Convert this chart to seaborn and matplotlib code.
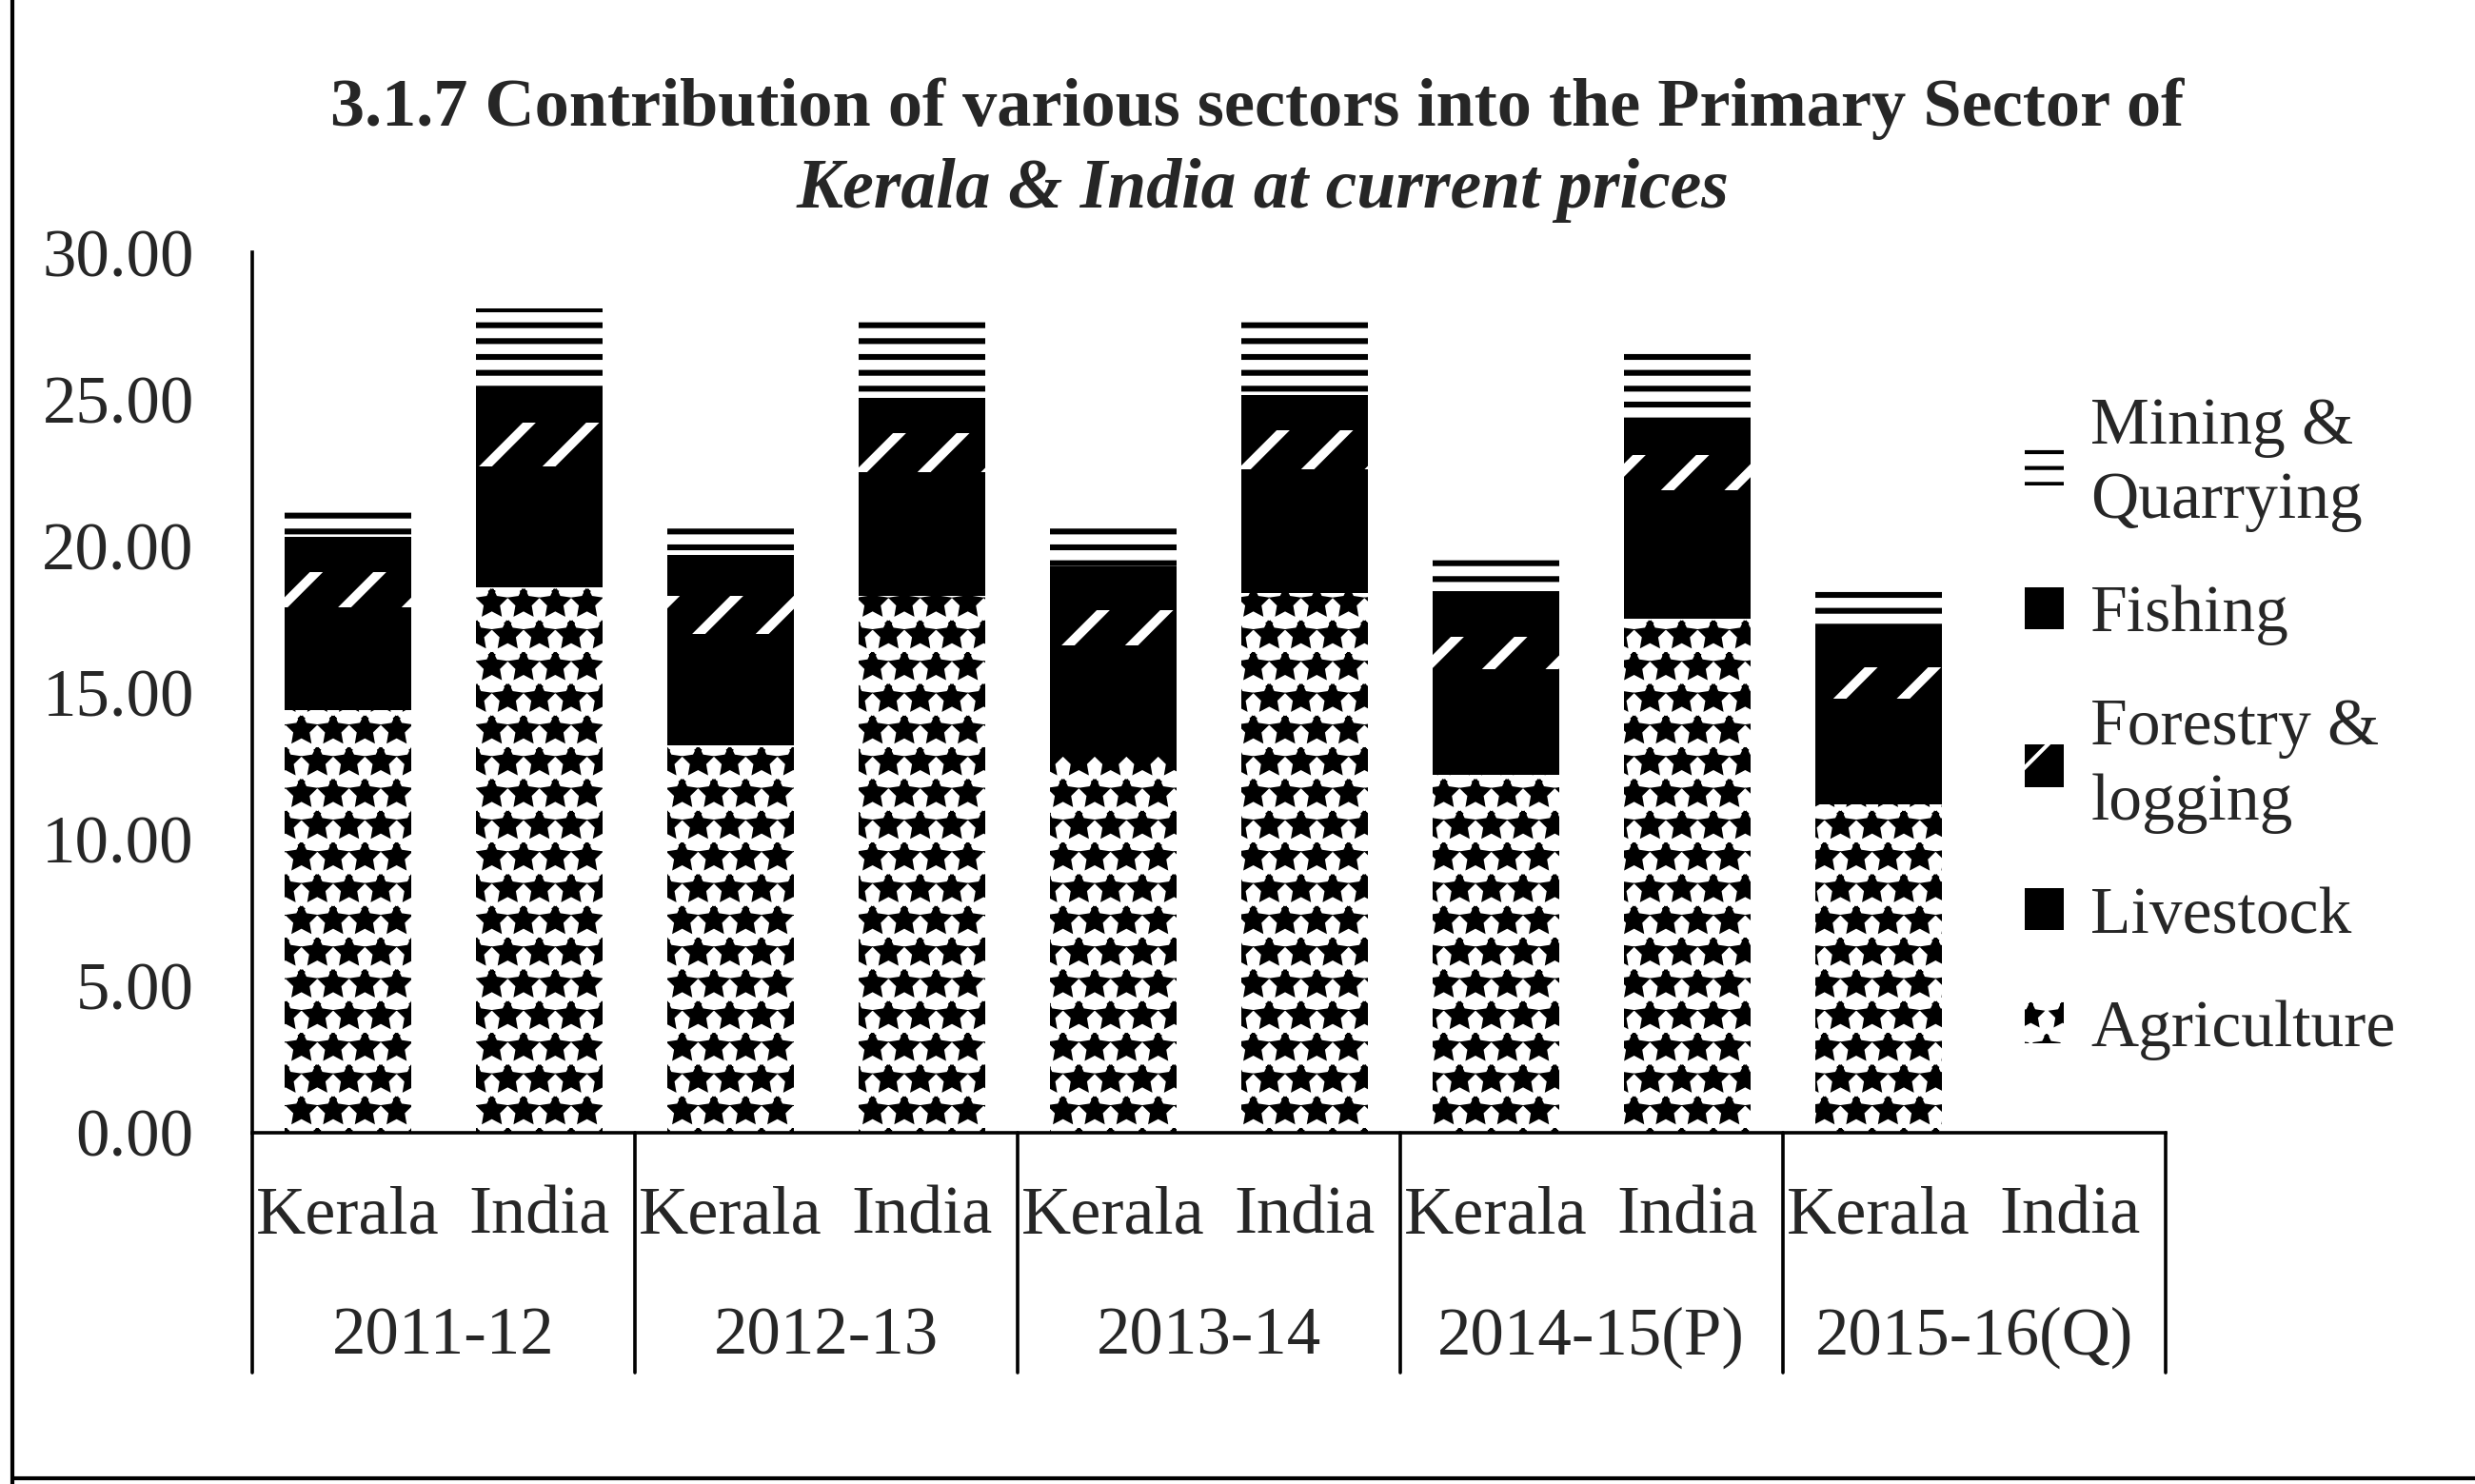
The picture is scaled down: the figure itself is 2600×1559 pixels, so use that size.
import matplotlib
matplotlib.use("Agg")
import matplotlib.pyplot as plt
from matplotlib.patches import Patch
import seaborn as sns
import pandas as pd
import numpy as np

# share of each sector (%); India 2015-16(Q) has no bar
years = ["2011-12", "2012-13", "2013-14", "2014-15(P)", "2015-16(Q)"]
regions = ["Kerala", "India"]
agriculture = [14.4, 18.6, 13.2, 18.3, 12.8, 18.4, 12.2, 17.5, 11.2, None]
livestock   = [3.5, 4.1, 3.8, 4.2, 3.8, 4.2, 3.6, 4.4, 3.6, None]
forestry    = [1.2, 1.5, 1.3, 1.35, 1.2, 1.35, 1.1, 1.2, 1.05, None]
fishing     = [1.2, 1.1, 1.4, 1.2, 1.5, 1.2, 1.55, 1.1, 1.45, None]
mining      = [1.0, 2.8, 1.2, 2.7, 1.3, 2.5, 1.3, 2.4, 1.15, None]

keys = [f"{r} {y}" for y in years for r in regions]
df = pd.DataFrame({"key": keys, "Agriculture": agriculture, "Livestock": livestock,
                   "Forestry & logging": forestry, "Fishing": fishing,
                   "Mining & Quarrying": mining}).dropna()

sns.set_theme(style="white")
plt.rcParams["font.family"] = ["Liberation Serif", "DejaVu Serif"]

fig = plt.figure(figsize=(13, 7.795), dpi=200)
ax = fig.add_axes([0.1019, 0.2367, 0.773, 0.5933])

# sector, face, hatch colour, hatch, hatch linewidth
styles = [("Agriculture", "white", "black", "*", 2.2),
          ("Livestock", "black", "black", None, 1.0),
          ("Forestry & logging", "black", "white", "/", 3.5),
          ("Fishing", "black", "black", None, 1.0),
          ("Mining & Quarrying", "white", "black", "--", 2.2)]

bottom = np.zeros(len(df))
handles = []
for name, face, edge, hatch, hlw in styles:
    with plt.rc_context({"hatch.linewidth": hlw}):
        sns.barplot(data=df, x="key", y=name, order=keys, bottom=bottom, color=face,
                    edgecolor=edge, linewidth=0, hatch=hatch, width=0.66, ax=ax,
                    saturation=1)
        handles.append(Patch(facecolor=face, edgecolor=edge, hatch=hatch, linewidth=0))
    bottom = bottom + df[name].to_numpy()

ax.set_xlim(-0.5, 9.5)
ax.set_ylim(0, 30)
ax.set_yticks(range(0, 31, 5))
ax.set_yticklabels([f"{v:.2f}" for v in range(0, 31, 5)], fontsize=25.5)
ax.tick_params(axis="y", length=0, pad=22)
ax.set_xticks([])
ax.set_xlabel("")
ax.set_ylabel("")
for s in ["top", "right"]:
    ax.spines[s].set_visible(False)
for s in ["left", "bottom"]:
    ax.spines[s].set_color("black")
    ax.spines[s].set_linewidth(1.3)

# category table under the axis
for i, k in enumerate(keys):
    ax.text(i, -0.095, k.split()[0], transform=ax.get_xaxis_transform(),
            ha="center", va="center", fontsize=26)
for j, y in enumerate(years):
    ax.text(2 * j + 0.5, -0.233, y, transform=ax.get_xaxis_transform(),
            ha="center", va="center", fontsize=25.5)
for xs in np.arange(-0.5, 10, 2):
    ax.plot([xs, xs], [0, -0.273], transform=ax.get_xaxis_transform(),
            color="black", lw=1.3, clip_on=False)

labels = ["Agriculture", "Livestock", "Forestry &\nlogging", "Fishing", "Mining &\nQuarrying"]
with plt.rc_context({"hatch.linewidth": 1.5}):
    leg = fig.legend(handles[::-1], labels[::-1], loc="upper left",
                     bbox_to_anchor=(0.818, 0.732), frameon=False, fontsize=25,
                     handlelength=0.6, handleheight=0.6, handletextpad=0.4,
                     labelspacing=0.8, borderpad=0, borderaxespad=0)
for t in leg.get_texts():
    t.set_linespacing(1.3)

fig.text(0.508, 0.927, "3.1.7 Contribution of various sectors into the Primary Sector of",
         ha="center", va="center", fontsize=26, fontweight="bold")
fig.text(0.510, 0.872, "Kerala & India at current prices",
         ha="center", va="center", fontsize=26.5, fontweight="bold", fontstyle="italic")

# scan frame
fig.add_artist(plt.Line2D([0.005, 0.005], [0.0, 1.0], color="black", lw=1.5))
fig.add_artist(plt.Line2D([0.005, 1.0], [0.004, 0.004], color="black", lw=1.5))

fig.savefig("out.png", dpi=200, facecolor="white")
